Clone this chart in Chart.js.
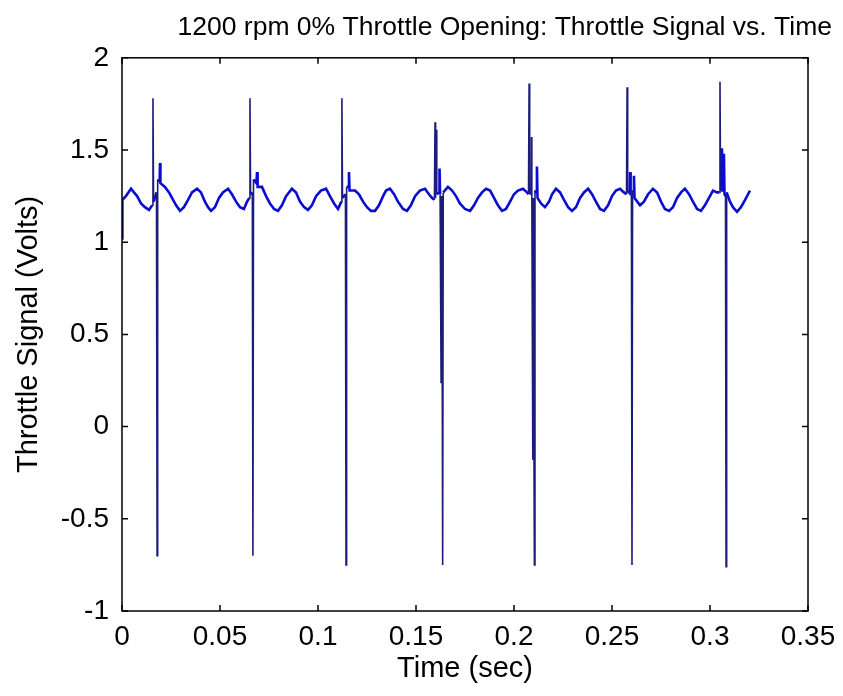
<!DOCTYPE html>
<html>
<head>
<meta charset="utf-8">
<title>Throttle Signal vs. Time</title>
<script src="https://cdn.jsdelivr.net/npm/chart.js@4.4.1/dist/chart.umd.min.js"></script>
<style>
    html, body { margin: 0; padding: 0; background: #fff; }
    #wrap { width: 843px; height: 696px; }
</style>
</head>
<body>
<div id="wrap"><canvas id="throttle-chart" width="843" height="696"></canvas></div>
<script>
// 値は画像から読み取ったもの
var chartTitle = '1200 rpm 0% Throttle Opening: Throttle Signal vs. Time';
var xTitle = 'Time (sec)';
var yTitle = 'Throttle Signal (Volts)';
var xTicks = [0, 0.05, 0.1, 0.15, 0.2, 0.25, 0.3, 0.35];
var yTicks = [-1, -0.5, 0, 0.5, 1, 1.5, 2];

// 1行ずつ: 基線 / スパイク が交互
var timeSec = [
    0.0000, 0.0002, 0.0020, 0.0046, 0.0061, 0.0077, 0.0097, 0.0117, 0.0138, 0.0154,
    0.0158, 0.0161, 0.0176, 0.0179, 0.0182, 0.0192, 0.0194, 0.0196,
    0.0219, 0.0240, 0.0255, 0.0276, 0.0296, 0.0316, 0.0337, 0.0357, 0.0383, 0.0403, 0.0423, 0.0439, 0.0454, 0.0474, 0.0495, 0.0515, 0.0541, 0.0561, 0.0582, 0.0602, 0.0622, 0.0638, 0.0650,
    0.0653, 0.0656, 0.0665, 0.0668, 0.0671, 0.0686, 0.0689, 0.0692,
    0.0714, 0.0735, 0.0755, 0.0776, 0.0796, 0.0816, 0.0837, 0.0867, 0.0888, 0.0908, 0.0929, 0.0949, 0.0969, 0.0990, 0.1015, 0.1041, 0.1061, 0.1082, 0.1102, 0.1119,
    0.1122, 0.1125, 0.1140, 0.1143, 0.1146, 0.1155, 0.1158, 0.1161,
    0.1189, 0.1209, 0.1230, 0.1250, 0.1270, 0.1291, 0.1311, 0.1332, 0.1347, 0.1367, 0.1388, 0.1408, 0.1434, 0.1454, 0.1474, 0.1495, 0.1520, 0.1546, 0.1566, 0.1582, 0.1594,
    0.1597, 0.1600, 0.1603, 0.1606, 0.1618, 0.1620, 0.1623, 0.1628, 0.1631, 0.1634, 0.1636, 0.1639,
    0.1663, 0.1684, 0.1704, 0.1724, 0.1750, 0.1776, 0.1796, 0.1816, 0.1837, 0.1857, 0.1878, 0.1898, 0.1918, 0.1939, 0.1959, 0.1980, 0.2000, 0.2020, 0.2046, 0.2066, 0.2074,
    0.2077, 0.2080, 0.2086, 0.2088, 0.2091, 0.2096, 0.2099, 0.2102, 0.2104, 0.2107, 0.2114, 0.2117, 0.2120,
    0.2138, 0.2158, 0.2179, 0.2194, 0.2214, 0.2235, 0.2255, 0.2276, 0.2296, 0.2316, 0.2337, 0.2357, 0.2378, 0.2398, 0.2418, 0.2439, 0.2459, 0.2480, 0.2500, 0.2520, 0.2541, 0.2561, 0.2574,
    0.2577, 0.2580, 0.2590, 0.2592, 0.2595, 0.2599, 0.2602, 0.2605, 0.2610, 0.2612, 0.2615,
    0.2643, 0.2663, 0.2684, 0.2709, 0.2730, 0.2750, 0.2770, 0.2791, 0.2811, 0.2832, 0.2852, 0.2872, 0.2893, 0.2913, 0.2934, 0.2954, 0.2974, 0.2995, 0.3015, 0.3036, 0.3048,
    0.3051, 0.3054, 0.3059, 0.3061, 0.3064, 0.3069, 0.3071, 0.3074, 0.3079, 0.3082, 0.3085,
    0.3102, 0.3117, 0.3138, 0.3158, 0.3179, 0.3194, 0.3204
];

var volts = [
    1.02, 1.23, 1.25, 1.29, 1.27, 1.25, 1.21, 1.19, 1.175, 1.20,
    1.78, 1.22, 1.27, -0.70, 1.34, 1.33, 1.43, 1.32,
    1.30, 1.27, 1.24, 1.20, 1.17, 1.19, 1.23, 1.27, 1.29, 1.27, 1.22, 1.19, 1.17, 1.19, 1.24, 1.27, 1.29, 1.26, 1.22, 1.19, 1.18, 1.22, 1.24,
    1.78, 1.26, 1.27, -0.70, 1.34, 1.32, 1.38, 1.30,
    1.30, 1.25, 1.21, 1.18, 1.17, 1.20, 1.25, 1.29, 1.27, 1.22, 1.19, 1.175, 1.20, 1.25, 1.28, 1.29, 1.25, 1.21, 1.18, 1.22,
    1.78, 1.24, 1.26, -0.75, 1.30, 1.30, 1.38, 1.28,
    1.28, 1.26, 1.22, 1.19, 1.17, 1.17, 1.20, 1.25, 1.28, 1.29, 1.26, 1.22, 1.18, 1.17, 1.20, 1.25, 1.28, 1.29, 1.26, 1.24, 1.23,
    1.65, 1.24, 1.61, 1.26, 1.27, 1.40, 1.26, 0.24, 1.25, 0.24, -0.75, 1.27,
    1.30, 1.28, 1.25, 1.21, 1.18, 1.17, 1.20, 1.24, 1.27, 1.29, 1.28, 1.24, 1.20, 1.17, 1.18, 1.22, 1.26, 1.28, 1.29, 1.27, 1.26,
    1.86, 1.26, 1.27, 1.57, 1.25, -0.18, 1.24, -0.18, -0.75, 1.28, 1.27, 1.41, 1.24,
    1.21, 1.19, 1.22, 1.26, 1.29, 1.27, 1.23, 1.19, 1.17, 1.19, 1.24, 1.27, 1.29, 1.26, 1.22, 1.18, 1.17, 1.20, 1.25, 1.28, 1.29, 1.27, 1.26,
    1.84, 1.27, 1.27, 1.38, 1.26, 1.26, -0.75, 1.28, 1.28, 1.36, 1.24,
    1.20, 1.22, 1.26, 1.29, 1.27, 1.22, 1.18, 1.17, 1.19, 1.24, 1.27, 1.29, 1.26, 1.22, 1.18, 1.17, 1.20, 1.24, 1.28, 1.27, 1.27,
    1.87, 1.28, 1.28, 1.51, 1.30, 1.29, 1.48, 1.26, 1.25, -0.76, 1.27,
    1.22, 1.19, 1.165, 1.19, 1.23, 1.26, 1.28
];

(function () {
    'use strict';

    var points = timeSec.map(function (t, i) {
        return { x: t, y: volts[i] };
    });

    // 大きく跳ぶ区間かどうか
    function isJump(c) {
        return Math.abs(c.p1.parsed.y - c.p0.parsed.y) > 0.3;
    }

    // 枠と内向きの目盛り (MATLAB風)
    var framePlugin = {
        id: 'matlabFrame',
        afterDatasetsDraw: function (chart) {
            var ctx = chart.ctx, a = chart.chartArea;
            var xs = chart.scales.x, ys = chart.scales.y, len = 6;
            ctx.save();
            ctx.strokeStyle = '#000';
            ctx.lineWidth = 1.5;
            ctx.strokeRect(a.left, a.top, a.right - a.left, a.bottom - a.top);
            ctx.beginPath();
            xTicks.forEach(function (v) {
                var px = xs.getPixelForValue(v);
                ctx.moveTo(px, a.bottom); ctx.lineTo(px, a.bottom - len);
                ctx.moveTo(px, a.top); ctx.lineTo(px, a.top + len);
            });
            yTicks.forEach(function (v) {
                var py = ys.getPixelForValue(v);
                ctx.moveTo(a.left, py); ctx.lineTo(a.left + len, py);
                ctx.moveTo(a.right, py); ctx.lineTo(a.right - len, py);
            });
            ctx.stroke();
            ctx.restore();
        }
    };

    Chart.defaults.font.family = '"Liberation Sans", Arial, sans-serif';
    Chart.defaults.color = '#000';

    var ctx = document.getElementById('throttle-chart').getContext('2d');
    new Chart(ctx, {
        type: 'line',
        data: {
            datasets: [{
                data: points,
                borderColor: '#0c0cd0',
                borderWidth: 2.6,
                pointRadius: 0,
                tension: 0,
                segment: {
                    borderColor: function (c) { return isJump(c) ? '#1c1c7a' : undefined; },
                    borderWidth: function (c) { return isJump(c) ? 1.6 : undefined; }
                }
            }]
        },
        options: {
            responsive: false,
            animation: false,
            devicePixelRatio: 1,
            layout: { padding: { left: 0, right: 11, top: 0, bottom: 0 } },
            plugins: {
                legend: { display: false },
                tooltip: { enabled: false },
                title: {
                    display: true,
                    text: chartTitle,
                    align: 'end',
                    font: { size: 26.5, weight: 'normal' },
                    padding: { top: 12, bottom: 14 }
                }
            },
            scales: {
                x: {
                    type: 'linear',
                    min: 0,
                    max: 0.35,
                    grid: { display: false, drawTicks: false },
                    border: { display: false },
                    afterBuildTicks: function (s) {
                        s.ticks = xTicks.map(function (v) { return { value: v }; });
                    },
                    afterFit: function (s) {
                        s.height = 85;
                        s.paddingRight = 35;
                    },
                    ticks: {
                        padding: 9,
                        maxRotation: 0,
                        autoSkip: false,
                        font: { size: 28 },
                        callback: function (v) { return String(v); }
                    },
                    title: {
                        display: true,
                        text: xTitle,
                        font: { size: 29 },
                        padding: { top: 0, bottom: 10 }
                    }
                },
                y: {
                    type: 'linear',
                    min: -1,
                    max: 2,
                    grid: { display: false, drawTicks: false },
                    border: { display: false },
                    afterBuildTicks: function (s) {
                        s.ticks = yTicks.map(function (v) { return { value: v }; });
                    },
                    afterFit: function (s) {
                        s.width = 122;
                    },
                    ticks: {
                        padding: 13,
                        autoSkip: false,
                        font: { size: 28 },
                        callback: function (v) { return String(v); }
                    },
                    title: {
                        display: true,
                        text: yTitle,
                        font: { size: 29 },
                        padding: { top: 12, bottom: 0 }
                    }
                }
            }
        },
        plugins: [framePlugin]
    });
})();
</script>
</body>
</html>
